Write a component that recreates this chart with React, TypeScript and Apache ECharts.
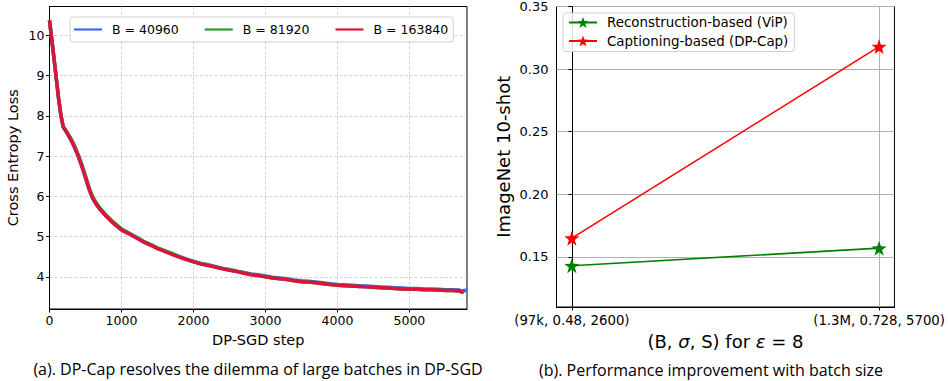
import React, { useEffect, useRef } from "react";
import * as echarts from "echarts";

// ---------- Data ----------
const lossSteps = [
  0, 25, 50, 90, 125, 160, 190, 250, 300, 350, 400, 450, 500, 550, 600, 650, 700, 800, 900,
  1000, 1100, 1200, 1300, 1400, 1500, 1600, 1700, 1800, 1900, 2000, 2100, 2200, 2300, 2400,
  2500, 2600, 2700, 2800, 2900, 3000, 3100, 3200, 3300, 3400, 3500, 3600, 3700, 3800, 3900,
  4000, 4100, 4200, 4300, 4400, 4500, 4600, 4700, 4800, 4900, 5000, 5100, 5200, 5300, 5400,
  5500, 5600, 5700,
];
const lossB40960 = [
  10.37, 10.0, 9.62, 9.0, 8.45, 8.0, 7.73, 7.55, 7.39, 7.2, 6.99, 6.74, 6.46, 6.17, 5.95, 5.8,
  5.68, 5.49, 5.33, 5.18, 5.09, 4.99, 4.88, 4.8, 4.71, 4.64, 4.57, 4.5, 4.44, 4.38, 4.33, 4.3,
  4.26, 4.21, 4.18, 4.14, 4.11, 4.07, 4.05, 4.02, 3.99, 3.97, 3.95, 3.92, 3.9, 3.89, 3.87, 3.85,
  3.83, 3.81, 3.8, 3.79, 3.78, 3.77, 3.76, 3.75, 3.74, 3.73, 3.72, 3.71, 3.71, 3.7, 3.7, 3.69,
  3.68, 3.68, 3.67,
];
const lossB40960TailSteps = [5730, 5760, 5800];
const lossB40960Tail = [3.6, 3.66, 3.67];
const lossB81920 = [
  10.37, 10.0, 9.62, 9.0, 8.45, 8.0, 7.74, 7.58, 7.43, 7.25, 7.03, 6.79, 6.51, 6.22, 5.99, 5.84,
  5.71, 5.51, 5.34, 5.19, 5.09, 4.99, 4.89, 4.81, 4.72, 4.65, 4.58, 4.51, 4.44, 4.38, 4.33, 4.29,
  4.25, 4.21, 4.17, 4.14, 4.1, 4.06, 4.03, 4.0, 3.97, 3.95, 3.93, 3.9, 3.88, 3.87, 3.85, 3.83,
  3.81, 3.79, 3.78, 3.77, 3.76, 3.75, 3.74, 3.73, 3.72, 3.71, 3.7, 3.69, 3.69, 3.68, 3.68, 3.67,
  3.66, 3.66, 3.65,
];
const lossB163840 = [
  10.37, 10.0, 9.62, 9.0, 8.45, 8.0, 7.73, 7.56, 7.4, 7.22, 7.0, 6.75, 6.47, 6.18, 5.95, 5.8,
  5.68, 5.48, 5.31, 5.16, 5.07, 4.97, 4.87, 4.79, 4.7, 4.63, 4.56, 4.49, 4.43, 4.37, 4.32, 4.28,
  4.24, 4.2, 4.16, 4.13, 4.09, 4.05, 4.03, 4.0, 3.97, 3.95, 3.93, 3.9, 3.88, 3.87, 3.85, 3.83,
  3.81, 3.79, 3.78, 3.77, 3.76, 3.75, 3.74, 3.73, 3.72, 3.71, 3.7, 3.69, 3.69, 3.68, 3.68, 3.67,
  3.66, 3.66, 3.65,
];
const lossB163840TailSteps = [5750];
const lossB163840Tail = [3.64];

const lossSeriesNames = ["B = 40960", "B = 81920", "B = 163840"];
const lossXTicks = [0, 1000, 2000, 3000, 4000, 5000];
const lossYTicks = [4, 5, 6, 7, 8, 9, 10];

const batchConfigs = ["(97k, 0.48, 2600)", "(1.3M, 0.728, 5700)"];
const accSeriesNames = ["Reconstruction-based (ViP)", "Captioning-based (DP-Cap)"];
const vipAcc = [0.143, 0.157];
const dpCapAcc = [0.165, 0.318];
const accYTicks = [0.15, 0.2, 0.25, 0.3, 0.35];

const captionA = "(a). DP-Cap resolves the dilemma of large batches in DP-SGD";
const captionB = "(b). Performance improvement with batch size";

// ---------- helpers ----------
const zip = (xs: number[], ys: number[]) => xs.map((x, i) => [x, ys[i]]);
const FONT = "DejaVu Sans";
const STAR =
  "path://M0,-10L2.35,-3.24L9.51,-3.09L3.8,1.24L5.88,8.09L0,4L-5.88,8.09L-3.8,1.24L-9.51,-3.09L-2.35,-3.24Z";

export default function App() {
  const ref = useRef<HTMLDivElement>(null);

  useEffect(() => {
    if (!ref.current) return;
    const chart = echarts.init(ref.current, undefined, { renderer: "svg" });

    const tickStyle = { color: "#000", width: 1 };

    const option: any = {
      animation: false,
      backgroundColor: "#fff",
      textStyle: { fontFamily: FONT },
      grid: [
        {
          left: 49.5, top: 6.5, width: 417.5, height: 302.5,
          show: true, borderColor: "#000", borderWidth: 1, backgroundColor: "transparent",
        },
        {
          left: 556.5, top: 5.5, width: 339, height: 301.5,
          show: true, borderColor: "#000", borderWidth: 1, backgroundColor: "transparent",
        },
      ],
      xAxis: [
        {
          type: "value", gridIndex: 0, min: 0, max: 5800,
          axisLine: { show: true, lineStyle: tickStyle },
          axisTick: { show: true, customValues: lossXTicks, length: 3.5, lineStyle: tickStyle },
          axisLabel: {
            customValues: lossXTicks, fontSize: 12.5, fontFamily: FONT, color: "#000", margin: 5,
            formatter: (v: number) => String(v),
          },
          splitLine: { show: true, lineStyle: { color: "#c4c4c4", type: [3, 2], width: 0.8 } },
          name: "DP-SGD step", nameLocation: "middle", nameGap: 23,
          nameTextStyle: { fontSize: 14.5, fontFamily: FONT, color: "#000" },
        },
        {
          type: "value", gridIndex: 1, min: -0.05, max: 1.05,
          axisLine: { show: true, lineStyle: tickStyle },
          axisTick: { show: true, customValues: [0, 1], length: 3.5, lineStyle: tickStyle },
          axisLabel: {
            customValues: [0, 1], fontSize: 13.3, fontFamily: FONT, color: "#000", margin: 7,
            formatter: (v: number) => batchConfigs[Math.round(v)],
          },
          splitLine: { show: true, lineStyle: { color: "#b0b0b0", width: 1 } },
          name: "(B, {i|σ}, S) for {i|ε} = 8", nameLocation: "middle", nameGap: 25,
          nameTextStyle: {
            fontSize: 18, fontFamily: FONT, color: "#000",
            rich: { i: { fontSize: 18, fontFamily: FONT, fontStyle: "italic", color: "#000" } },
          },
        },
      ],
      yAxis: [
        {
          type: "value", gridIndex: 0, min: 3.2, max: 10.72,
          axisLine: { show: true, lineStyle: tickStyle },
          axisTick: { show: true, customValues: lossYTicks, length: 3.5, lineStyle: tickStyle },
          axisLabel: {
            customValues: lossYTicks, fontSize: 12.5, fontFamily: FONT, color: "#000", margin: 5,
          },
          splitLine: { show: true, lineStyle: { color: "#c4c4c4", type: [3, 2], width: 0.8 } },
          name: "Cross Entropy Loss", nameLocation: "middle", nameGap: 29,
          nameTextStyle: { fontSize: 14.5, fontFamily: FONT, color: "#000" },
        },
        {
          type: "value", gridIndex: 1, min: 0.11, max: 0.35,
          axisLine: { show: true, lineStyle: tickStyle },
          axisTick: { show: true, customValues: accYTicks, length: 3.5, lineStyle: tickStyle },
          axisLabel: {
            customValues: accYTicks, fontSize: 13, fontFamily: FONT, color: "#000", margin: 8,
            formatter: (v: number) => v.toFixed(2),
          },
          splitLine: { show: true, lineStyle: { color: "#b0b0b0", width: 1 } },
          name: "ImageNet 10-shot", nameLocation: "middle", nameGap: 44,
          nameTextStyle: { fontSize: 18, fontFamily: FONT, color: "#000" },
        },
      ],
      legend: [
        {
          data: lossSeriesNames.map((n) => ({ name: n, icon: "rect" })),
          left: 70, top: 17, orient: "horizontal",
          itemWidth: 28, itemHeight: 2.2, itemGap: 26,
          padding: [6, 5, 6, 4], borderColor: "#d0d0d0", borderWidth: 1, borderRadius: 3,
          backgroundColor: "rgba(255,255,255,0.85)",
          textStyle: {
            fontSize: 12.5, fontFamily: FONT, color: "#000", padding: [0, 0, 0, 5], lineHeight: 12,
          },
        },
        {
          data: accSeriesNames, left: 563, top: 13, orient: "vertical",
          itemWidth: 28, itemHeight: 14, itemGap: 5.5,
          padding: [3, 6, 4, 5], borderColor: "#d0d0d0", borderWidth: 1, borderRadius: 3,
          backgroundColor: "rgba(255,255,255,0.85)",
          textStyle: { fontSize: 13.4, fontFamily: FONT, color: "#000", padding: [0, 0, 0, 5] },
        },
      ],
      series: [
        {
          name: lossSeriesNames[0], type: "line", xAxisIndex: 0, yAxisIndex: 0,
          data: zip(lossSteps, lossB40960).concat(zip(lossB40960TailSteps, lossB40960Tail)),
          symbol: "none", showSymbol: false, color: "#4169E1",
          lineStyle: { width: 3.5, color: "#4169E1" }, z: 2,
        },
        {
          name: lossSeriesNames[1], type: "line", xAxisIndex: 0, yAxisIndex: 0,
          data: zip(lossSteps, lossB81920),
          symbol: "none", showSymbol: false, color: "#2a9a2a",
          lineStyle: { width: 3.5, color: "#2a9a2a" }, z: 3,
        },
        {
          name: lossSeriesNames[2], type: "line", xAxisIndex: 0, yAxisIndex: 0,
          data: zip(lossSteps, lossB163840).concat(zip(lossB163840TailSteps, lossB163840Tail)),
          symbol: "none", showSymbol: false, color: "#DC143C",
          lineStyle: { width: 3.5, color: "#DC143C" }, z: 4,
        },
        {
          name: accSeriesNames[0], type: "line", xAxisIndex: 1, yAxisIndex: 1,
          data: vipAcc.map((v, i) => [i, v]),
          symbol: STAR, symbolSize: 15, color: "#008000",
          itemStyle: { color: "#008000" }, lineStyle: { width: 1.6, color: "#008000" }, z: 3,
        },
        {
          name: accSeriesNames[1], type: "line", xAxisIndex: 1, yAxisIndex: 1,
          data: dpCapAcc.map((v, i) => [i, v]),
          symbol: STAR, symbolSize: 15, color: "#ff0000",
          itemStyle: { color: "#ff0000" }, lineStyle: { width: 1.6, color: "#ff0000" }, z: 4,
        },
      ],
      graphic: [
        {
          type: "text", x: 258, y: 369, silent: true,
          style: {
            text: captionA, font: '16px "Open Sans"', fill: "#000",
            textAlign: "center", textVerticalAlign: "middle", align: "center", verticalAlign: "middle",
          },
        },
        {
          type: "text", x: 711, y: 370, silent: true,
          style: {
            text: captionB, font: '16px "Open Sans"', fill: "#000",
            textAlign: "center", textVerticalAlign: "middle", align: "center", verticalAlign: "middle",
          },
        },
      ],
    };

    chart.setOption(option);
    return () => chart.dispose();
  }, []);

  return (
    <div
      ref={ref}
      style={{ position: "fixed", left: 0, top: 0, width: 948, height: 381, background: "#fff" }}
    />
  );
}
